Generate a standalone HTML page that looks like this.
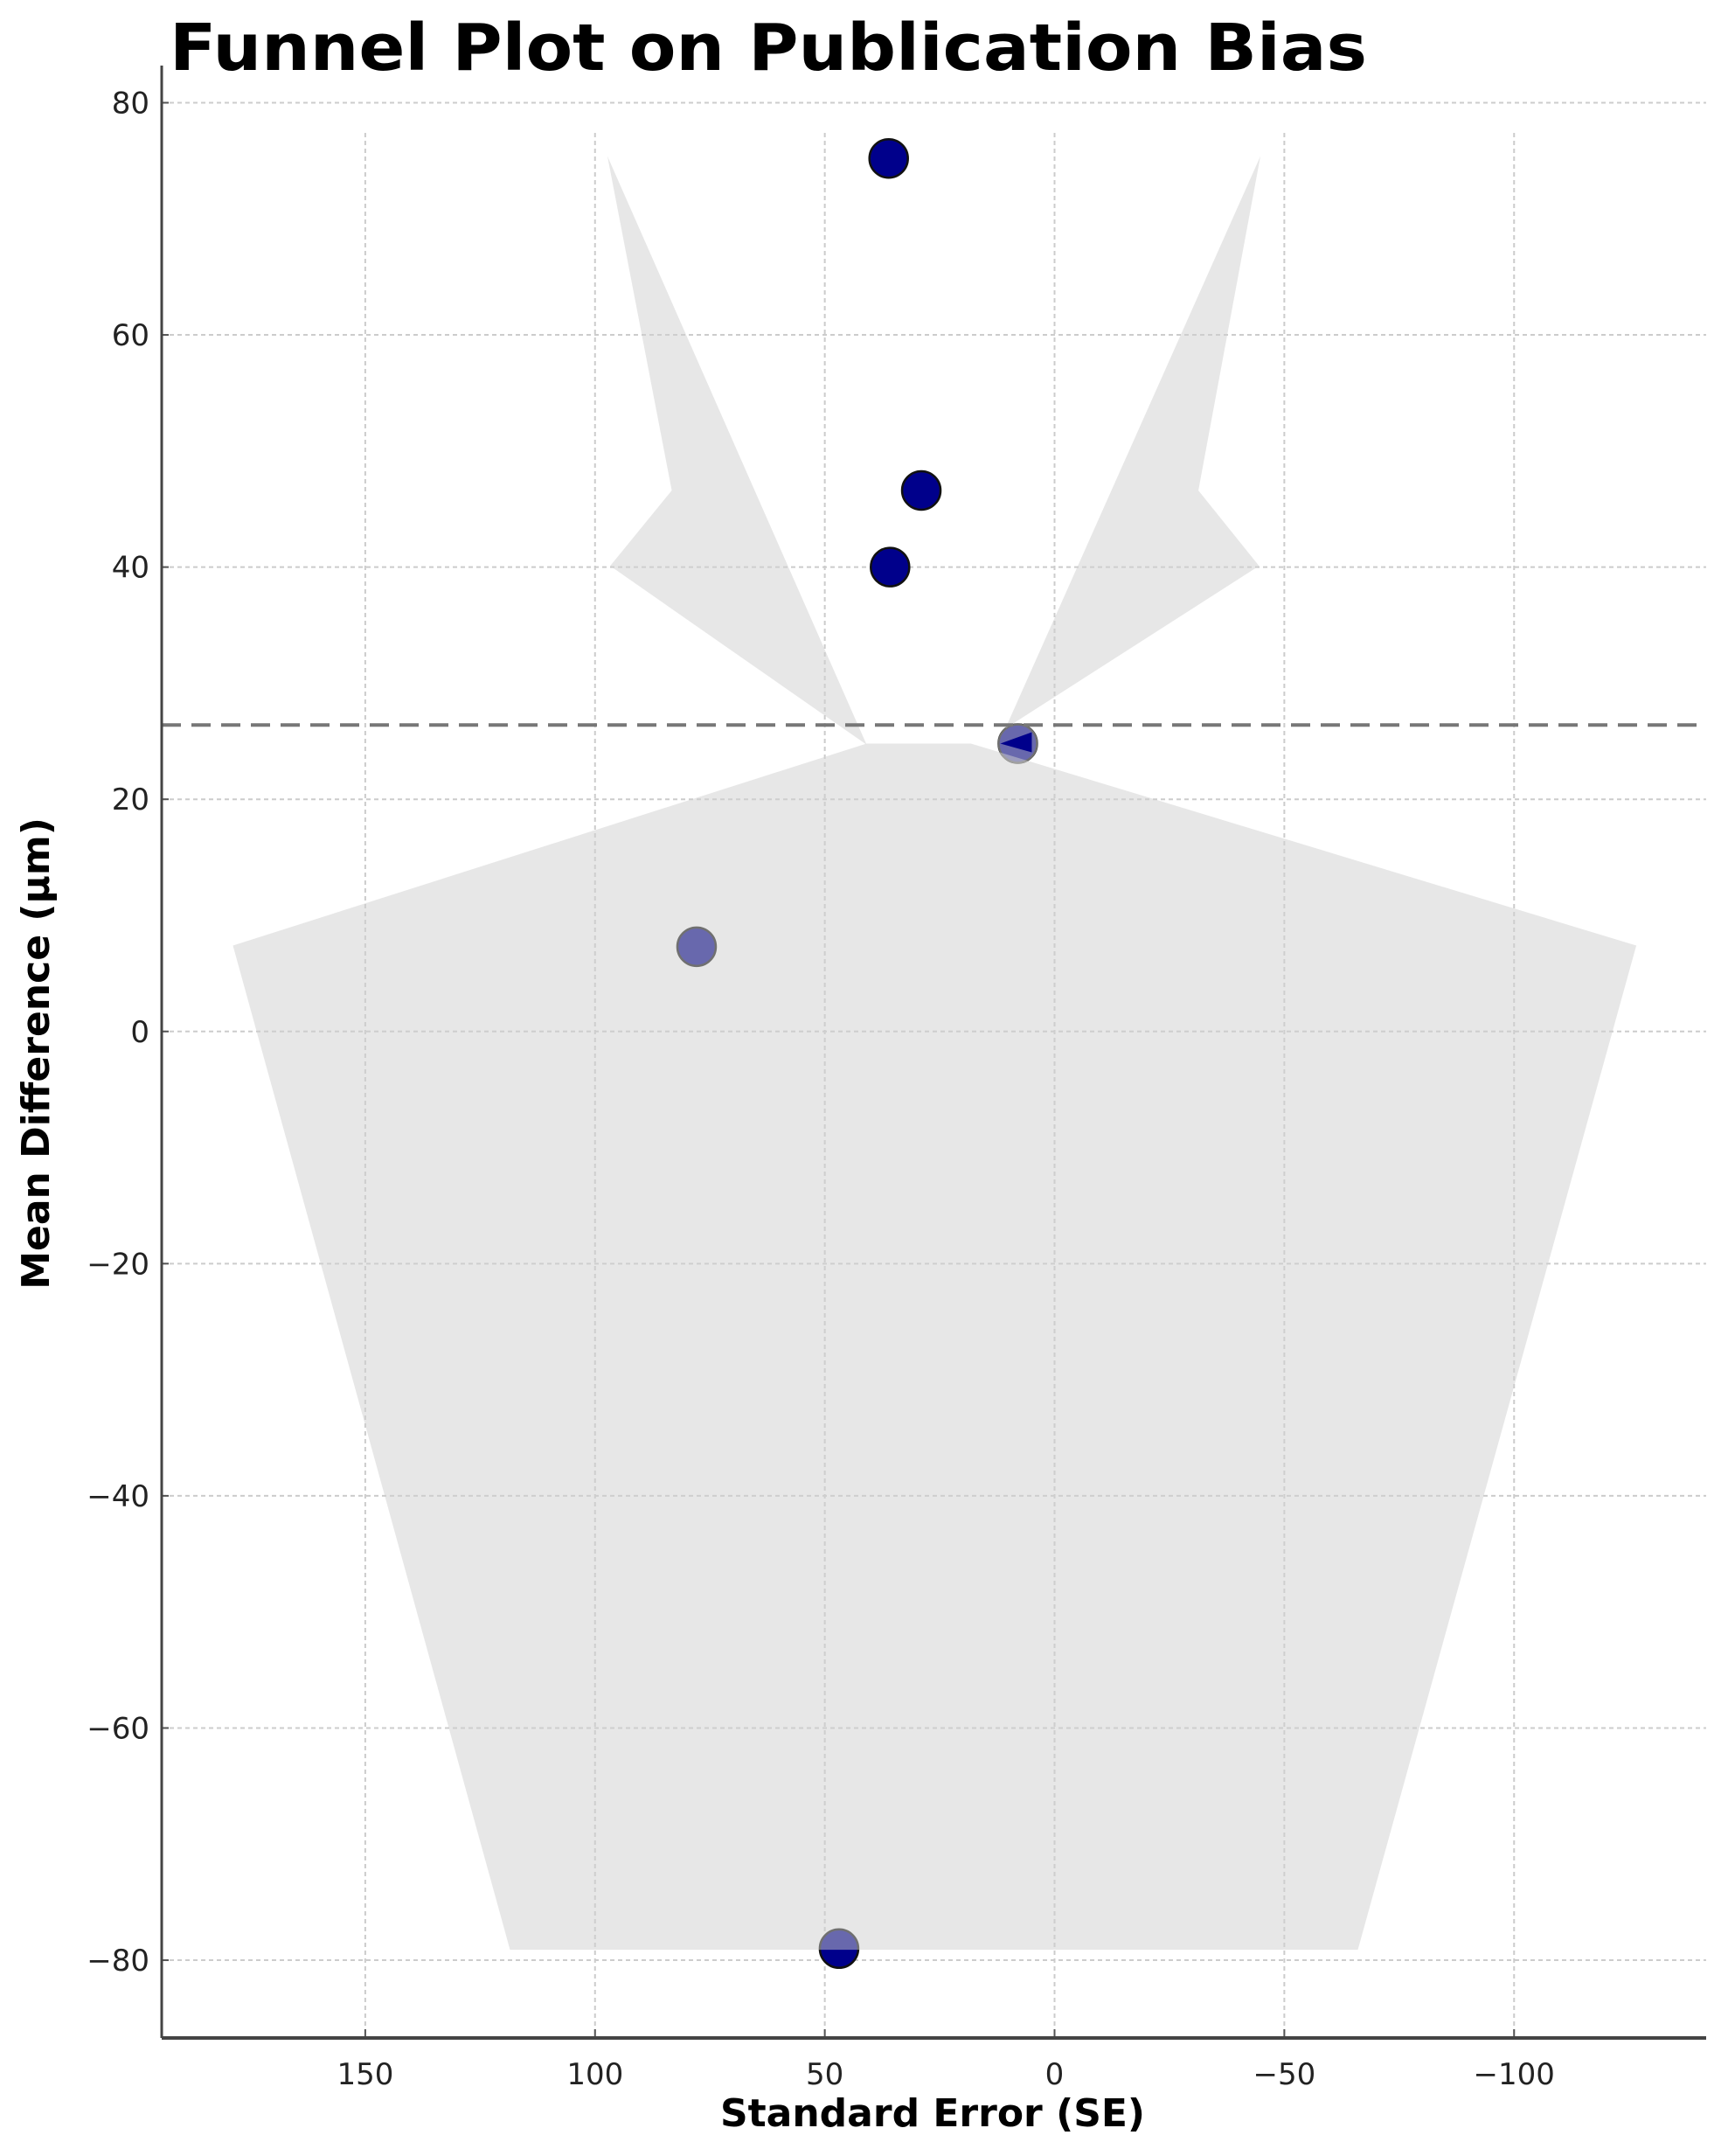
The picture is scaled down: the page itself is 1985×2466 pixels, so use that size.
<!DOCTYPE html>
<html><head><meta charset="utf-8"><style>
html,body{margin:0;padding:0;background:#fff;}
svg{display:block;font-family:"DejaVu Sans","Liberation Sans",sans-serif;}
</style></head><body>
<svg id="chart" width="1985" height="2466" viewBox="0 0 1985 2466" xmlns="http://www.w3.org/2000/svg">
<text x="194" y="80" font-size="74" font-weight="bold" fill="#000" textLength="1370" lengthAdjust="spacingAndGlyphs">Funnel Plot on Publication Bias</text>
<g id="grid"></g>
<g id="pts"></g>
<g id="funnel"></g>
<g id="over"></g>
<g id="axes"></g>
<text x="1067" y="2432" font-size="44" font-weight="bold" text-anchor="middle">Standard Error (SE)</text>
<text transform="translate(56,1205) rotate(-90)" font-size="44" font-weight="bold" text-anchor="middle">Mean Difference (µm)</text>
</svg>
<script>
const xTicks = [150, 100, 50, 0, -50, -100];
const xTickLabels = ["150", "100", "50", "0", "\u221250", "\u2212100"];
const yTicks = [80, 60, 40, 20, 0, -20, -40, -60, -80];
const yTickLabels = ["80", "60", "40", "20", "0", "\u221220", "\u221240", "\u221260", "\u221280"];
const studySE = [36.1, 29.0, 35.8, 8.0, 77.9, 46.9];
const studyMD = [75.2, 46.6, 40.0, 24.8, 7.3, -79.0];
const pooledMD = 26.4;
const funnelLeftSE = [97.3, 83.3, 96.7, 40.9];
const funnelLeftMD = [75.4, 46.6, 40.1, 24.7];
const funnelRightSE = [-44.8, -31.3, -44.5, 10.7];
const funnelRightMD = [75.4, 46.6, 40.1, 26.1];
const funnelLowSE = [40.9, 18.2, -126.6, -66.0, 118.5, 178.8];
const funnelLowMD = [24.8, 24.8, 7.4, -79.1, -79.1, 7.4];

const X0=185, X1=1952, Y0=75, Y1=2331;
const xMin=194.3, xMax=-141.8, yMin=-86.7, yMax=83.2;
const sx = v => X0 + (v - xMin) / (xMax - xMin) * (X1 - X0);
const sy = v => Y1 - (v - yMin) / (yMax - yMin) * (Y1 - Y0);
const NS="http://www.w3.org/2000/svg";
function mk(tag, parent, attrs){const e=document.createElementNS(NS,tag);for(const k in attrs)e.setAttribute(k,attrs[k]);parent.appendChild(e);return e;}
const grid=document.getElementById('grid'), pts=document.getElementById('pts'), fun=document.getElementById('funnel'), over=document.getElementById('over'), axes=document.getElementById('axes');

xTicks.forEach((t,i)=>{
  const l=mk('line',grid,{x1:sx(t),x2:sx(t),y1:152,y2:Y1,stroke:'#ccc','stroke-width':2,'stroke-dasharray':'5,4'});
  
  
  const tk=mk('line',axes,{x1:sx(t),x2:sx(t),y1:Y1,y2:Y1-10,stroke:'#555','stroke-width':2});
  
  
  const tx=mk('text',axes,{x:sx(t),y:Y1+53,'font-size':34,'text-anchor':'middle',fill:'#222'});
  tx.textContent=xTickLabels[i];
  
  
});
yTicks.forEach((t,i)=>{
  const l=mk('line',grid,{x1:X0,x2:X1,y1:sy(t),y2:sy(t),stroke:'#ccc','stroke-width':2,'stroke-dasharray':'5,4'});
  
  
  const tk=mk('line',axes,{x1:X0,x2:X0+8,y1:sy(t),y2:sy(t),stroke:'#555','stroke-width':2});
  
  
  const tx=mk('text',axes,{x:X0-14,y:sy(t)+12,'font-size':34,'text-anchor':'end',fill:'#222'});
  tx.textContent=yTickLabels[i];
  
  
});

studySE.forEach((se,i)=>{
  const c=mk('circle',pts,{cx:sx(se),cy:sy(studyMD[i]),r:22,fill:'#00008b',stroke:'#111','stroke-width':2.5});
  
  
});

function poly(xs,ys,name){
  const p=mk('polygon',fun,{points:xs.map((x,i)=>sx(x)+','+sy(ys[i])).join(' '),fill:'#d0d0d0','fill-opacity':0.5});
  
  
}
poly(funnelLeftSE,funnelLeftMD,'funnel-upper-left');
poly(funnelRightSE,funnelRightMD,'funnel-upper-right');
poly(funnelLowSE,funnelLowMD,'funnel-lower');

// overlap shading on the point near the funnel apex
const ax=sx(studySE[3]), ay=sy(studyMD[3]);
const ov=mk('circle',fun,{cx:ax,cy:ay,r:23,fill:'#d0d0d0','fill-opacity':0.5});


const wedge=mk('polygon',fun,{points:`${ax-20},${ay} ${ax+16},${ay-13} ${ax+16},${ay+10}`,fill:'#00008b'});



const d=mk('line',over,{x1:X0,x2:X1,y1:sy(pooledMD),y2:sy(pooledMD),stroke:'#777','stroke-width':4,'stroke-dasharray':'22,12'});



const ya=mk('line',axes,{x1:X0,x2:X0,y1:Y0,y2:Y1,stroke:'#444','stroke-width':3});


const xa=mk('line',axes,{x1:X0,x2:X1,y1:Y1,y2:Y1,stroke:'#444','stroke-width':4});


</script>
</body></html>
